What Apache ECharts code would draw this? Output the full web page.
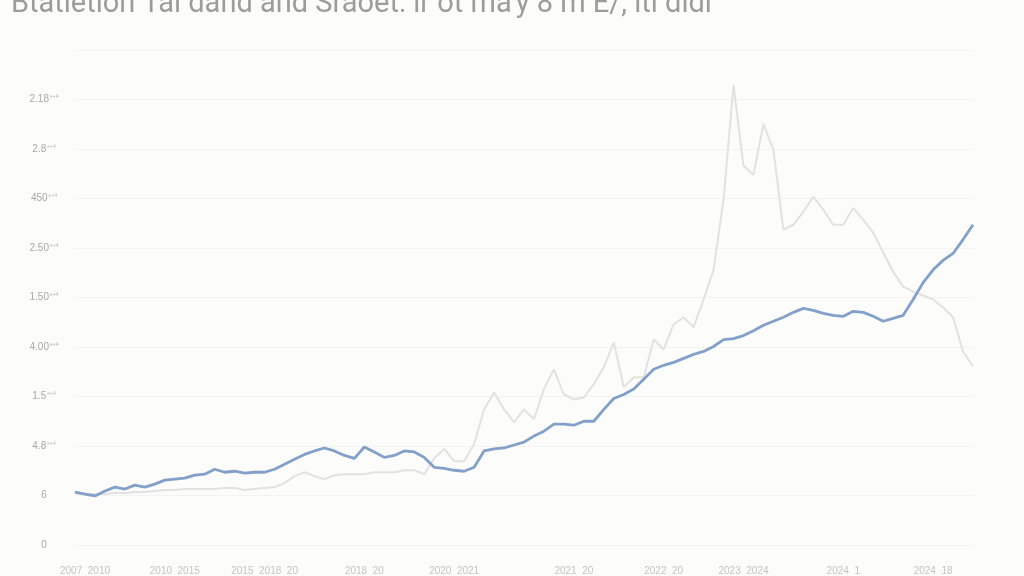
<!DOCTYPE html>
<html><head><meta charset="utf-8">
<script src="https://cdn.jsdelivr.net/npm/echarts@6/dist/echarts.min.js"></script>
<style>html,body{margin:0;padding:0;background:#fcfcfa;}#c{width:1024px;height:576px;}</style>
</head><body><div id="c"></div>
<script>
const titleText = "Btatietion Tai dand and Sraöet: ir ot ma'y 8 m E/, itı didi";
const yTickMain = ['0','6','4.8','1.5','4.00','1.50','2.50','450','2.8','2.18',''];
const yTickSup  = ['','','e+4','e+4','e+4','e+4','e+4','e+4','e+4','e+4',''];
const xTickIdx = [1,10,19,29,38,50,59,67,77,86];
const xTickText = ['2007  2010','2010  2015','2015  2018  20','2018  20','2020  2021','2021  20','2022  20','2023  2024','2024  1','2024  18'];
const blueSeries = [1.07,1.03,0.99,1.09,1.17,1.13,1.21,1.17,1.23,1.31,1.33,1.35,1.41,1.43,1.53,1.47,1.49,1.45,1.47,1.47,
1.53,1.63,1.73,1.83,1.90,1.96,1.90,1.81,1.75,1.98,1.88,1.77,1.81,1.90,1.88,1.77,1.57,1.55,1.51,1.49,
1.57,1.90,1.94,1.96,2.02,2.08,2.20,2.30,2.44,2.44,2.42,2.50,2.50,2.74,2.96,3.04,3.15,3.35,3.55,3.63,
3.69,3.77,3.85,3.91,4.01,4.15,4.17,4.23,4.33,4.44,4.52,4.60,4.70,4.78,4.74,4.68,4.64,4.62,4.72,4.70,
4.62,4.52,4.58,4.64,4.96,5.30,5.56,5.75,5.89,6.17,6.47];
const graySeries = [1.05,1.03,1.03,1.03,1.05,1.05,1.07,1.07,1.09,1.11,1.11,1.13,1.13,1.13,1.13,1.15,1.15,1.11,1.13,1.15,
1.17,1.25,1.39,1.47,1.39,1.33,1.41,1.43,1.43,1.43,1.47,1.47,1.47,1.51,1.51,1.43,1.75,1.94,1.69,1.69,
2.04,2.74,3.08,2.74,2.48,2.74,2.54,3.15,3.55,3.04,2.94,2.98,3.25,3.59,4.09,3.19,3.39,3.39,4.15,3.95,
4.46,4.60,4.40,4.96,5.56,6.98,9.29,7.66,7.48,8.51,7.98,6.37,6.47,6.73,7.04,6.77,6.47,6.47,6.81,6.57,
6.31,5.91,5.52,5.22,5.12,5.04,4.96,4.80,4.60,3.91,3.61];
const categories = blueSeries.map((_, i) => String(i));
const chart = echarts.init(document.getElementById('c'));
chart.setOption({
  backgroundColor: '#fcfcfa',
  animation: false,
  title: { text: titleText, left: 6, top: -15,
    textStyle: { fontFamily: 'Liberation Sans Narrow, Roboto, sans-serif', fontSize: 29, fontWeight: 'normal', color: '#9c9c9c' } },
  grid: { left: 75, right: 51, top: 50, bottom: 30 },
  xAxis: { type: 'category', data: categories, boundaryGap: false,
    axisLine: { show: false }, axisTick: { show: false },
    axisLabel: { margin: 21, fontSize: 10, color: '#c4c4c4',
      interval: (i) => xTickIdx.indexOf(i) >= 0,
      formatter: (v, i) => { const k = xTickIdx.indexOf(i); return k >= 0 ? xTickText[k] : ''; } } },
  yAxis: { type: 'value', min: 0, max: 10, interval: 1,
    axisLine: { show: false }, axisTick: { show: false },
    splitLine: { lineStyle: { color: '#f3f3f1', width: 1 } },
    axisLabel: { margin: 31, align: 'center', color: '#a8a8a8',
      formatter: (v) => { const k = Math.round(v); return yTickSup[k] ? '{a|' + yTickMain[k] + '}{b|' + yTickSup[k] + '}' : '{a|' + yTickMain[k] + '}'; },
      rich: { a: { fontSize: 10, color: '#a8a8a8' }, b: { fontSize: 5, color: '#bbbbbb', verticalAlign: 'top', padding: [0,0,4,1] } } } },
  series: [
    { type: 'line', data: graySeries, symbol: 'none', lineStyle: { color: '#e2e2e0', width: 2 }, z: 2 },
    { type: 'line', data: blueSeries, symbol: 'none', lineStyle: { color: '#82a0c9', width: 2.8 }, z: 3 }
  ]
});
</script></body></html>
